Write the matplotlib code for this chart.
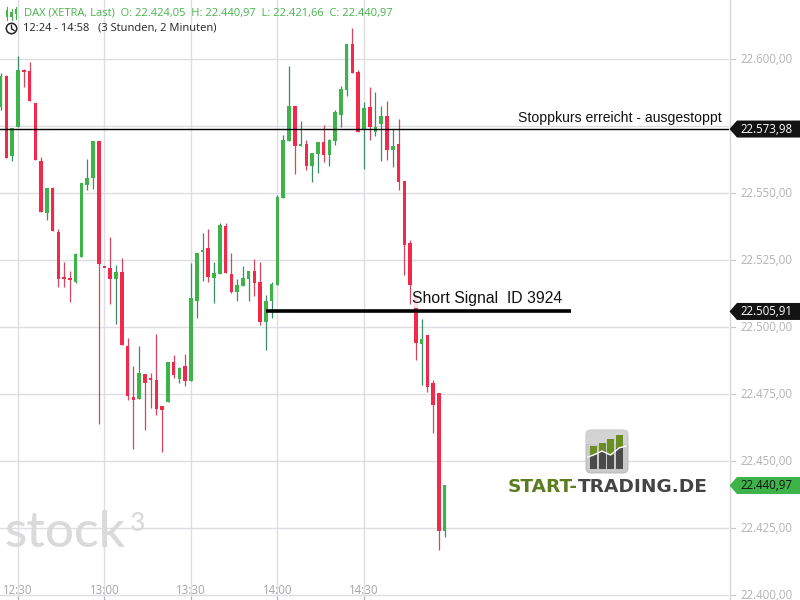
import matplotlib
matplotlib.use("Agg")
import matplotlib.pyplot as plt
from matplotlib.patches import Polygon, Circle, FancyBboxPatch, Rectangle

# ---------------- data (2-minute candles, DAX XETRA, 12:24 - 14:58) ----------------
opens = [22582.3, 22593.8, 22564.0, 22574.9, 22596.0, 22595.6, 22583.7, 22562.1, 22542.8, 22552.1,
         22535.6, 22518.4, 22518.5, 22516.9, 22526.2, 22553.2, 22555.8, 22569.5, 22522.1, 22522.1,
         22518.0, 22520.6, 22493.0, 22474.0, 22473.2, 22482.6, 22480.3, 22480.3, 22470.6, 22472.2,
         22487.1, 22480.7, 22485.6, 22480.0, 22509.9, 22528.1, 22529.6, 22518.5, 22520.0, 22537.8,
         22519.9, 22513.2, 22515.4, 22518.0, 22521.0, 22516.9, 22502.0, 22509.8, 22515.8, 22548.2,
         22569.6, 22582.6, 22567.6, 22568.4, 22560.3, 22564.7, 22569.1, 22564.3, 22569.5, 22579.2,
         22588.5, 22605.7, 22595.3, 22573.6, 22582.2, 22572.9, 22575.9, 22578.8, 22566.2, 22568.4,
         22554.6, 22531.5, 22512.0, 22493.8, 22497.1, 22479.2, 22475.5, 22424.05]
highs = [22595.0, 22594.0, 22574.3, 22601.2, 22596.2, 22599.0, 22583.7, 22563.5, 22552.0, 22552.3,
         22536.7, 22524.4, 22521.0, 22527.6, 22553.8, 22562.8, 22569.5, 22569.5, 22522.1, 22533.7,
         22523.2, 22525.7, 22495.9, 22485.6, 22493.0, 22482.6, 22482.9, 22497.5, 22470.6, 22487.1,
         22489.7, 22485.2, 22490.0, 22524.0, 22527.7, 22535.2, 22536.7, 22524.4, 22538.9, 22538.9,
         22527.7, 22518.0, 22522.9, 22521.0, 22525.5, 22524.4, 22512.1, 22516.9, 22549.4, 22571.8,
         22597.5, 22582.6, 22577.0, 22569.9, 22565.0, 22569.1, 22575.5, 22570.3, 22581.1, 22590.0,
         22605.7, 22611.7, 22596.0, 22584.1, 22589.7, 22587.8, 22582.6, 22584.4, 22574.0, 22577.7,
         22554.6, 22532.6, 22512.0, 22503.1, 22497.1, 22480.3, 22475.5, 22440.97]
lows = [22581.0, 22563.0, 22562.2, 22574.9, 22589.8, 22584.4, 22562.5, 22543.0, 22540.0, 22536.0,
        22515.1, 22514.9, 22509.6, 22516.6, 22526.2, 22551.2, 22551.7, 22463.9, 22522.0, 22508.7,
        22501.2, 22493.5, 22472.9, 22454.6, 22473.2, 22461.7, 22470.0, 22467.3, 22453.5, 22472.2,
        22481.2, 22479.2, 22478.1, 22480.0, 22503.6, 22517.4, 22517.0, 22509.2, 22520.0, 22520.4,
        22512.8, 22509.8, 22515.4, 22509.8, 22511.7, 22500.9, 22491.5, 22503.5, 22515.8, 22548.2,
        22569.6, 22557.2, 22567.6, 22558.7, 22554.2, 22557.6, 22561.7, 22560.2, 22568.0, 22574.7,
        22586.3, 22594.9, 22572.9, 22559.1, 22569.9, 22571.4, 22562.1, 22562.4, 22559.8, 22551.2,
        22519.5, 22508.7, 22487.7, 22478.5, 22476.0, 22460.7, 22416.9, 22421.66]
closes = [22593.9, 22563.3, 22574.3, 22596.0, 22595.4, 22584.4, 22562.5, 22543.0, 22552.0, 22536.0,
          22518.1, 22518.2, 22517.6, 22527.4, 22553.8, 22555.7, 22569.5, 22523.6, 22522.0, 22518.0,
          22520.6, 22493.5, 22474.4, 22473.0, 22482.9, 22479.3, 22480.2, 22469.5, 22469.1, 22487.1,
          22482.3, 22484.8, 22480.0, 22510.9, 22527.7, 22528.8, 22518.9, 22520.1, 22538.2, 22520.4,
          22513.2, 22515.8, 22518.4, 22521.0, 22516.5, 22502.0, 22509.8, 22516.2, 22548.6, 22569.8,
          22582.6, 22567.8, 22568.4, 22560.3, 22565.0, 22569.1, 22564.4, 22569.9, 22580.3, 22588.9,
          22605.7, 22594.9, 22572.9, 22581.8, 22574.7, 22574.7, 22578.8, 22566.2, 22567.6, 22554.2,
          22530.7, 22515.8, 22494.3, 22495.6, 22477.7, 22471.0, 22424.0, 22440.97]

start_time = "12:24"
end_time = "14:58"
bar_minutes = 2
time_ticks = ["12:30", "13:00", "13:30", "14:00", "14:30"]
price_ticks = [22400, 22425, 22450, 22475, 22500, 22525, 22550, 22575, 22600]
stop_level = 22573.98
signal_level = 22505.91
stop_text = "Stoppkurs erreicht - ausgestoppt"
signal_text = "Short Signal  ID 3924"

# ---------------- helpers ----------------
def de(v):
    s = f"{v:,.2f}"
    return s.replace(",", "X").replace(".", ",").replace("X", ".")

def tmin(s):
    h, m = s.split(":")
    return int(h) * 60 + int(m)

GREEN = "#3db34a"
RED = "#f2294b"
GWICK = "#3a8c66"
RWICK = "#d0475f"
GRID = "#dddde4"
FONT = "Open Sans"

fig = plt.figure(figsize=(8, 6), dpi=100)
fig.patch.set_facecolor("white")
W, H = 800, 600
PLOT_R = 729

ax = fig.add_axes([0, 0, PLOT_R / W, 1])
ax.set_xlim(-0.121, 126.31)
ax.set_ylim(22398.24, 22622.13)
ax.axis("off")

n = len(opens)
xs = list(range(n))

# grid
for p in price_ticks:
    ax.axhline(p, color=GRID, lw=1.0, zorder=0)
t0 = tmin(start_time)
tick_idx = [(tmin(t) - t0) / bar_minutes for t in time_ticks]
for xi in tick_idx:
    ax.axvline(xi, color=GRID, lw=1.0, zorder=0)

# candles
for i in xs:
    o, h, l, c = opens[i], highs[i], lows[i], closes[i]
    up = c > o
    wc = GWICK if up else RWICK
    bc = GREEN if up else RED
    ax.vlines(i, l, h, colors=wc, lw=0.9, zorder=2)
    bot = min(o, c)
    hgt = max(abs(c - o), 0.7)
    ax.bar(i, hgt, bottom=bot, width=0.62, color=bc, lw=0, zorder=3)

# stop line (thin) and signal line (thick)
ax.axhline(stop_level, color="black", lw=1.0, zorder=4)
ax.plot([46.0, 98.9], [signal_level, signal_level], color="black", lw=2.6,
        solid_capstyle="butt", zorder=4)

# ---------------- overlay in pixel coordinates ----------------
ov = fig.add_axes([0, 0, 1, 1])
ov.set_xlim(0, W)
ov.set_ylim(H, 0)
ov.axis("off")
ov.patch.set_alpha(0)

fig.canvas.draw()

def ypix(p):
    return H - ax.transData.transform((0, p))[1]

def xpix(i):
    return ax.transData.transform((i, 0))[0]

tag_levels = [stop_level, signal_level, closes[-1]]

# right axis
ov.plot([PLOT_R + 0.5, PLOT_R + 0.5], [0, H], color="#d6d6dc", lw=1.0)
for p in price_ticks:
    y = ypix(p)
    ov.plot([PLOT_R + 2, PLOT_R + 6], [y, y], color="#c8c8c8", lw=0.8)
    if min(abs(y - ypix(t)) for t in tag_levels) < 8:
        continue  # hidden behind a price tag in the reference
    ov.text(740, y, de(p), color="#b3b3b3", fontsize=8.3, family=FONT,
            va="center", ha="left")

# bottom time labels
for t, xi in zip(time_ticks, tick_idx):
    x = xpix(xi)
    ov.text(x, 590, t, color="#a6a6a6", fontsize=8.3, family=FONT,
            va="center", ha="center")
    ov.plot([x, x], [597, 600], color="#b0b0b0", lw=0.8)

# stop text
ov.text(722, ypix(stop_level) - 11.5, stop_text, fontsize=10.05, family="Liberation Sans",
        color="#111111", ha="right", va="center",
        bbox=dict(facecolor="white", edgecolor="none", pad=1.2))
# signal text
ov.text(412, ypix(signal_level) - 12.5, signal_text, fontsize=11.3, family="Liberation Sans",
        color="#111111", ha="left", va="center",
        bbox=dict(facecolor="white", edgecolor="none", alpha=0.85, pad=1.0))

# price tags
def tag(p, face, tc):
    y = ypix(p)
    hh = 8.5
    poly = Polygon([[729.5, y], [737, y - hh], [800, y - hh], [800, y + hh], [737, y + hh]],
                   closed=True, facecolor=face, edgecolor="none", zorder=5)
    ov.add_patch(poly)
    ov.text(740, y, de(p), color=tc, fontsize=8.3, family=FONT, va="center",
            ha="left", zorder=6)

tag(stop_level, "#131313", "white")
tag(signal_level, "#131313", "white")
tag(closes[-1], "#3db34a", "#111111")

# header
hdr = (f"DAX (XETRA, Last)  O: {de(opens[-1])}  H: {de(highs[-1])}  "
       f"L: {de(lows[-1])}  C: {de(closes[-1])}")
ov.text(24, 13, hdr, color="#45b34b", fontsize=8.0, family=FONT, va="center", ha="left")
ov.text(23, 28.5, f"{start_time} - {end_time}   (3 Stunden, 2 Minuten)", color="#222222",
        fontsize=8.0, family=FONT, va="center", ha="left")
# candle icon
for cx, y1, y2, b1, b2 in [(7, 7, 20, 10, 17), (11.5, 9, 20, 12, 17), (16, 7, 19, 9, 14)]:
    ov.plot([cx, cx], [y1, y2], color="#45b34b", lw=0.8)
    ov.add_patch(Rectangle((cx - 1.3, b1), 2.6, b2 - b1, facecolor="#45b34b", edgecolor="none"))
# clock icon
ov.add_patch(Circle((11.5, 28.5), 5.2, facecolor="none", edgecolor="#222222", lw=1.1))
ov.plot([11.5, 11.5, 14.2], [25.3, 28.8, 30.5], color="#222222", lw=1.0)

# stock3 watermark
ov.text(4, 547, "stock", color="#dadada", fontsize=37, family="Lato", fontweight="medium",
        va="baseline", ha="left")
ov.text(130, 531, "3", color="#dadada", fontsize=19, family="Lato", fontweight="medium",
        va="baseline", ha="left")

# START-TRADING.DE logo
ov.add_patch(FancyBboxPatch((586, 430), 42, 43, boxstyle="round,pad=0,rounding_size=5",
                            facecolor="#c9c9c9", edgecolor="#b5b5b5", lw=0.6))
ov.add_patch(Rectangle((586, 430), 42, 14, facecolor="#dadada", edgecolor="none", alpha=0.6))
bars = [(590, 446, 469), (598.5, 443, 469), (607, 439, 469), (615.5, 435, 469)]
line_y = [455, 451, 455, 448]
for (bx, top, bot), ly in zip(bars, line_y):
    ov.add_patch(Rectangle((bx, top), 7, ly - top, facecolor="#6b8e23", edgecolor="none"))
    ov.add_patch(Rectangle((bx, ly), 7, bot - ly, facecolor="#4a4a4a", edgecolor="none"))
ov.plot([588, 593.5, 602, 610.5, 619, 626], [457, 455, 451, 455, 448, 446], color="white", lw=1.0)

r = fig.canvas.get_renderer()
t1 = ov.text(508, 487, "START-", color="#5b7d1f", fontsize=13.3, family="DejaVu Sans",
             fontweight="bold", va="center", ha="left")
bb = t1.get_window_extent(renderer=r)
ov.text(bb.x1, 487, "TRADING.DE", color="#444444", fontsize=13.3, family="DejaVu Sans",
        fontweight="bold", va="center", ha="left")

fig.savefig("out.png", dpi=100, facecolor="white")
